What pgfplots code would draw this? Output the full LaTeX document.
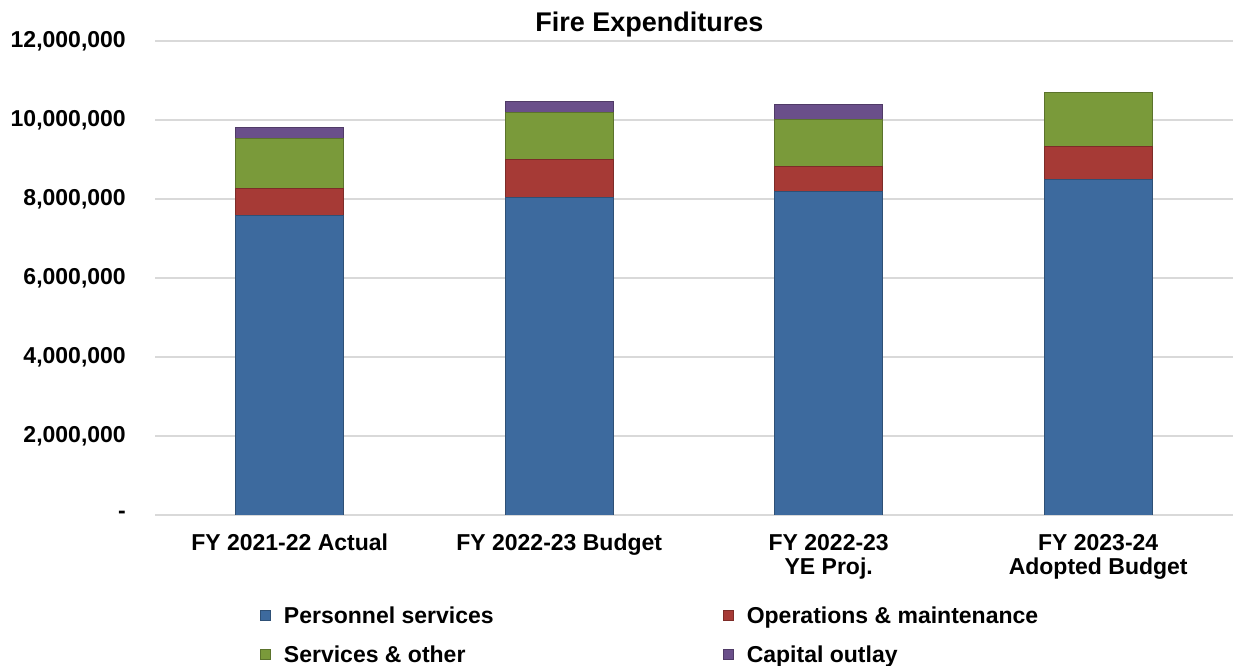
\documentclass[border=0pt]{standalone}
\usepackage{fontspec}
\setmainfont{Liberation Sans}
\usepackage{pgfplots}
\pgfplotsset{compat=1.18}
\definecolor{cblue}{RGB}{61,106,158}
\definecolor{cred}{RGB}{166,58,54}
\definecolor{cgreen}{RGB}{122,154,58}
\definecolor{cpurple}{RGB}{106,79,138}
\definecolor{gridgray}{RGB}{217,217,217}
\begin{document}
\begin{tikzpicture}
\path[use as bounding box] (0pt,0pt) rectangle (1234pt,666pt);
\begin{axis}[
  at={(155pt,151pt)}, anchor=south west,
  scale only axis, width=1078pt, height=474pt,
  ybar stacked, bar width=108pt,
  every axis plot post/.append style={
    legend image code/.code={\draw[##1, line width=0.8pt] (0pt,-3pt) rectangle (10pt,7pt);}
  },
  xmin=-0.5, xmax=3.5, ymin=0, ymax=12000000,
  xtick={0,1,2,3},
  xticklabels={FY 2021-22 Actual, FY 2022-23 Budget, {FY 2022-23\\YE Proj.}, {FY 2023-24\\Adopted Budget}},
  ytick={0,2000000,4000000,6000000,8000000,10000000,12000000},
  yticklabels={-,{2,000,000},{4,000,000},{6,000,000},{8,000,000},{10,000,000},{12,000,000}},
  scaled y ticks=false,
  major tick length=0pt,
  axis lines*=left,
  y axis line style={draw=none},
  x axis line style={draw=gridgray, line width=2pt},
  ymajorgrids, grid style={draw=gridgray, line width=1.5pt},
  x tick label style={align=center, font=\fontsize{23}{24}\selectfont\bfseries, inner sep=0pt, anchor=north, yshift=-19pt},
  y tick label style={font=\fontsize{23}{24}\selectfont\bfseries, inner sep=0pt, anchor=east, xshift=-29pt},
  title={Fire Expenditures},
  title style={at={(0.4587,1)}, anchor=base, yshift=3pt, font=\fontsize{27}{27}\selectfont\bfseries, inner sep=0pt},
  legend columns=2,
  legend cell align=left,
  legend style={draw=none, fill=none, at={(0.0974,-0.192)}, anchor=north west, inner sep=0pt,
    column sep=13pt, row sep=17pt, font=\fontsize{23}{24}\selectfont\bfseries,
    nodes={inner sep=0pt, text height=17pt, text depth=5pt}},
]
\addplot[fill=cblue, draw=cblue!75!black, line width=0.8pt] coordinates {(0,7590000) (1,8050000) (2,8190000) (3,8500000)};
\addlegendentry{\makebox[426pt][l]{Personnel services}}
\addplot[fill=cred, draw=cred!75!black, line width=0.8pt] coordinates {(0,670000) (1,950000) (2,640000) (3,840000)};
\addlegendentry{\makebox[426pt][l]{Operations \& maintenance}}
\addplot[fill=cgreen, draw=cgreen!75!black, line width=0.8pt] coordinates {(0,1270000) (1,1200000) (2,1190000) (3,1350000)};
\addlegendentry{\makebox[426pt][l]{Services \& other}}
\addplot[fill=cpurple, draw=cpurple!75!black, line width=0.8pt] coordinates {(0,280000) (1,270000) (2,380000)};
\addlegendentry{\makebox[426pt][l]{Capital outlay}}
\end{axis}
\end{tikzpicture}
\end{document}
